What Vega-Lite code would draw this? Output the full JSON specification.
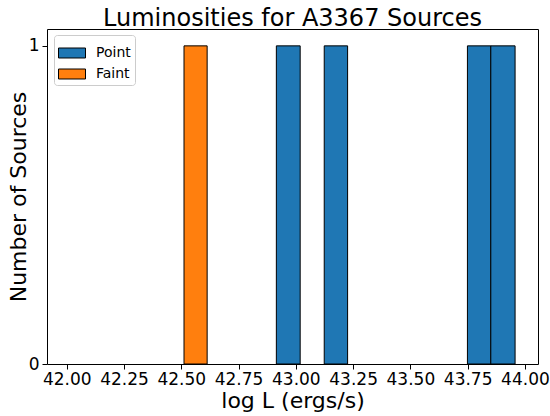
{
  "$schema": "https://vega.github.io/schema/vega-lite/v6.json",
  "width": 491,
  "height": 335,
  "autosize": "none",
  "padding": {"left": 47, "top": 29, "right": 12, "bottom": 52},
  "background": "white",
  "title": {"text": "Luminosities for A3367 Sources", "fontSize": 24, "fontWeight": "normal", "font": "DejaVu Sans", "color": "black", "offset": -2},
  "config": {
    "font": "DejaVu Sans",
    "view": {"stroke": "black", "strokeWidth": 1}
  },
  "data": {"values": [
    {"group": "Faint", "x0": 42.512, "x1": 42.613, "count": 1},
    {"group": "Point", "x0": 42.915, "x1": 43.019, "count": 1},
    {"group": "Point", "x0": 43.124, "x1": 43.226, "count": 1},
    {"group": "Point", "x0": 43.749, "x1": 43.851, "count": 1},
    {"group": "Point", "x0": 43.851, "x1": 43.957, "count": 1}
  ]},
  "mark": {"type": "bar", "stroke": "black", "strokeWidth": 1, "opacity": 1},
  "encoding": {
    "x": {"field": "x0", "type": "quantitative",
      "scale": {"domain": [41.914, 44.057], "nice": false, "zero": false},
      "axis": {"title": "log L (ergs/s)", "values": [42, 42.25, 42.5, 42.75, 43, 43.25, 43.5, 43.75, 44], "format": ".2f", "grid": false, "domain": false,
        "labelFontSize": 17, "titleFontSize": 22, "titleFontWeight": "normal", "labelColor": "black", "titleColor": "black", "tickColor": "black", "tickSize": 5, "labelPadding": 2, "titlePadding": 3}},
    "x2": {"field": "x1"},
    "y": {"field": "count", "type": "quantitative",
      "scale": {"domain": [0, 1.053], "nice": false},
      "axis": {"title": "Number of Sources", "values": [0, 1], "format": "d", "grid": false, "domain": false,
        "labelFontSize": 17, "titleFontSize": 22, "titleFontWeight": "normal", "labelColor": "black", "titleColor": "black", "tickColor": "black", "tickSize": 5, "labelPadding": 3, "titlePadding": -2}},
    "y2": {"datum": 0},
    "color": {"field": "group", "type": "nominal",
      "scale": {"domain": ["Point", "Faint"], "range": ["#1f77b4", "#ff7f0e"]},
      "legend": {"title": null, "orient": "none", "legendX": 7, "legendY": 6,
        "symbolType": "M-1,-0.37H1V0.37H-1Z", "symbolSize": 729, "symbolStrokeColor": "black", "symbolStrokeWidth": 1, "symbolOpacity": 1,
        "labelFontSize": 14, "labelColor": "black", "labelOffset": 10, "rowPadding": -11,
        "padding": 4, "strokeColor": "#cccccc", "fillColor": "white", "cornerRadius": 3}}
  }
}
